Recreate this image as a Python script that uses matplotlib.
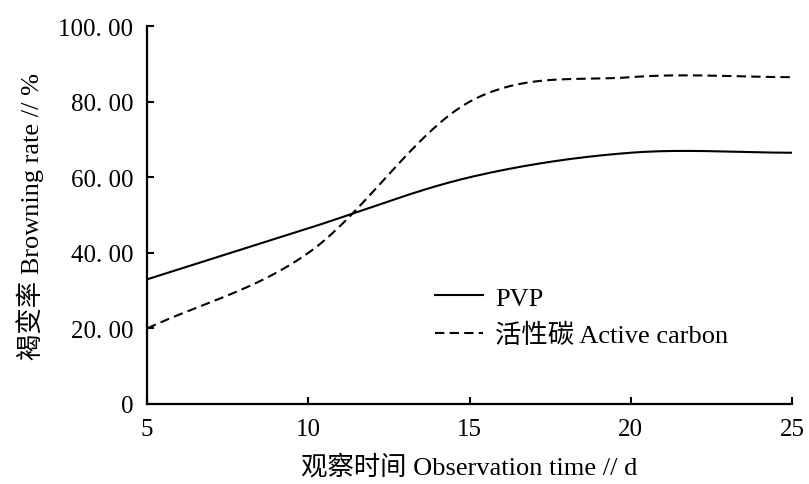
import numpy as np
from matplotlib import pyplot as plt

plt.rcParams['font.family'] = ['Liberation Serif', 'Noto Sans CJK SC']

days = [5, 10, 15, 20, 25]
pvp = [33.0, 46.5, 60.0, 66.5, 66.5]
active_carbon = [20.0, 40.0, 80.0, 86.5, 86.5]
yticks = [0, 20, 40, 60, 80, 100]
ytick_labels = ['0', '20. 00', '40. 00', '60. 00', '80. 00', '100. 00']


def smooth(x, y, n=40):
    # Catmull-Rom style smoothing, like the spreadsheet "smoothed line"
    x = np.asarray(x, float)
    y = np.asarray(y, float)
    m = np.zeros_like(y)
    m[1:-1] = (y[2:] - y[:-2]) / (x[2:] - x[:-2])
    m[0] = (y[1] - y[0]) / (x[1] - x[0])
    m[-1] = (y[-1] - y[-2]) / (x[-1] - x[-2])
    xs, ys = [], []
    for i in range(len(x) - 1):
        h = x[i + 1] - x[i]
        t = np.linspace(0, 1, n, endpoint=(i == len(x) - 2))
        h00 = 2 * t**3 - 3 * t**2 + 1
        h10 = t**3 - 2 * t**2 + t
        h01 = -2 * t**3 + 3 * t**2
        h11 = t**3 - t**2
        xs.append(x[i] + t * h)
        ys.append(h00 * y[i] + h10 * h * m[i] + h01 * y[i + 1] + h11 * h * m[i + 1])
    return np.concatenate(xs), np.concatenate(ys)


fig = plt.figure(figsize=(8.09, 4.85), dpi=100)
ax = fig.add_axes([0.182, 0.165, 0.797, 0.779])

sx, sy = smooth(days, pvp)
ax.plot(sx, sy, color='black', lw=1.5, label='PVP')
sx, sy = smooth(days, active_carbon)
ax.plot(sx, sy, color='black', lw=1.5, linestyle=(0, (4.5, 2.5)), label='活性碳 Active carbon')

ax.set_xlim(5, 25)
ax.set_ylim(0, 100)
ax.set_xticks([5, 10, 15, 20, 25])
ax.set_yticks(yticks)
ax.set_yticklabels(ytick_labels)

for s in ['top', 'right']:
    ax.spines[s].set_visible(False)
for s in ['left', 'bottom']:
    ax.spines[s].set_linewidth(1.6)

ax.tick_params(axis='both', direction='in', length=5, width=1.5, labelsize=18)
ax.tick_params(axis='y', pad=10)
ax.tick_params(axis='x', pad=10)

ax.set_xlabel('观察时间 Observation time // d', fontsize=19, labelpad=10)
ax.set_ylabel('褐变率 Browning rate // %', fontsize=19, labelpad=10)

ax.legend(loc='upper left', bbox_to_anchor=(0.41, 0.375), frameon=False,
          fontsize=19, handlelength=1.8, handletextpad=0.45, labelspacing=0.5)

fig.savefig('out.png', dpi=100)
